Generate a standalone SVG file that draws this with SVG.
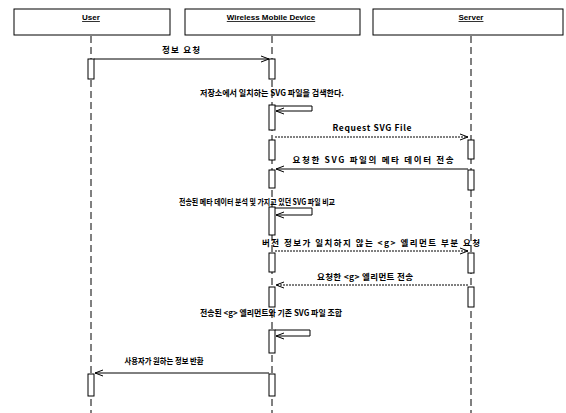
<svg xmlns="http://www.w3.org/2000/svg" width="566" height="413" viewBox="0 0 566 413">
<style>
.hdr{fill:#fff;stroke:#000;stroke-width:1}
.ht{font-family:"Liberation Sans","Noto Sans CJK KR",sans-serif;font-size:8px;font-weight:bold;text-anchor:middle;text-decoration:underline}
.life{stroke:#000;stroke-width:1;stroke-dasharray:7,4;fill:none}
.act{fill:#fff;stroke:#000;stroke-width:1}
.msg{stroke:#000;stroke-width:1;fill:none;marker-end:url(#arr)}
.dot{stroke-dasharray:2,1}
.lbl{font-family:"Noto Sans CJK KR","Liberation Sans",sans-serif;font-size:8.5px;font-weight:bold;text-anchor:middle}
</style>
<defs>
<marker id="arr" markerWidth="9" markerHeight="8" refX="8" refY="4" orient="auto" markerUnits="userSpaceOnUse">
<path d="M0,1 L8,4 L0,7" fill="none" stroke="#000" stroke-width="1"/>
</marker>
</defs>
<rect width="566" height="413" fill="#fff"/>
<g id="user">
<rect class="hdr" x="14" y="9" width="156" height="26"/>
<text class="ht" x="91" y="20">User</text>
<line class="life" x1="91" y1="36" x2="91" y2="413"/>
<rect class="act" x="88" y="59" width="6" height="20"/>
<rect class="act" x="88" y="374" width="6" height="22"/>
</g>
<g id="device">
<rect class="hdr" x="185" y="9" width="175" height="26"/>
<text class="ht" x="271" y="20">Wireless Mobile Device</text>
<line class="life" x1="272" y1="36" x2="272" y2="413"/>
<rect class="act" x="269" y="59" width="6" height="20"/>
<rect class="act" x="269" y="105" width="6" height="25"/>
<rect class="act" x="269" y="140" width="6" height="20"/>
<rect class="act" x="269" y="170" width="6" height="18"/>
<rect class="act" x="269" y="207" width="6" height="28"/>
<rect class="act" x="269" y="253" width="6" height="19"/>
<rect class="act" x="269" y="287" width="6" height="20"/>
<rect class="act" x="269" y="330" width="6" height="23"/>
<rect class="act" x="269" y="374" width="6" height="22"/>
</g>
<g id="server">
<rect class="hdr" x="373" y="9" width="190" height="26"/>
<text class="ht" x="471" y="20">Server</text>
<line class="life" x1="471" y1="36" x2="471" y2="413"/>
<rect class="act" x="468" y="140" width="6" height="19"/>
<rect class="act" x="468" y="170" width="6" height="20"/>
<rect class="act" x="468" y="253" width="6" height="20"/>
<rect class="act" x="468" y="287" width="6" height="20"/>
</g>
<g id="connectors">
<line class="msg" x1="94" y1="59" x2="269" y2="59"/>
<text class="lbl" x="181" y="53" textLength="38" lengthAdjust="spacing">정보 요청</text>
<path class="msg" d="M275,106 H312 V111 H276"/>
<text class="lbl" x="272" y="96" textLength="144" lengthAdjust="spacingAndGlyphs">저장소에서 일치하는 SVG 파일을 검색한다.</text>
<line class="msg dot" x1="275" y1="137" x2="468" y2="137"/>
<text class="lbl" x="372" y="131" textLength="79" lengthAdjust="spacing">Request SVG File</text>
<line class="msg" x1="468" y1="169" x2="276" y2="169"/>
<text class="lbl" x="373" y="163" textLength="161" lengthAdjust="spacing">요청한 SVG 파일의 메타 데이터 전송</text>
<path class="msg" d="M275,208 H312 V215 H276"/>
<text class="lbl" x="257" y="205" textLength="156" lengthAdjust="spacingAndGlyphs">전송된 메타 데이터 분석 및 가지고 있던 SVG 파일 비교</text>
<line class="msg dot" x1="275" y1="251" x2="468" y2="251"/>
<text class="lbl" x="371" y="246" textLength="218" lengthAdjust="spacing">버전 정보가 일치하지 않는 &lt;g&gt; 엘리먼트 부분 요청</text>
<line class="msg dot" x1="468" y1="285" x2="276" y2="285"/>
<text class="lbl" x="365" y="280" textLength="96" lengthAdjust="spacing">요청한 &lt;g&gt; 엘리먼트 전송</text>
<path class="msg" d="M275,330 H310 V336 H276"/>
<text class="lbl" x="271" y="316" textLength="142" lengthAdjust="spacingAndGlyphs">전송된 &lt;g&gt; 엘리먼트와 기존 SVG 파일 조합</text>
<line class="msg" x1="269" y1="373" x2="95" y2="373"/>
<text class="lbl" x="164" y="364" textLength="79" lengthAdjust="spacingAndGlyphs">사용자가 원하는 정보 반환</text>
</g>
</svg>
